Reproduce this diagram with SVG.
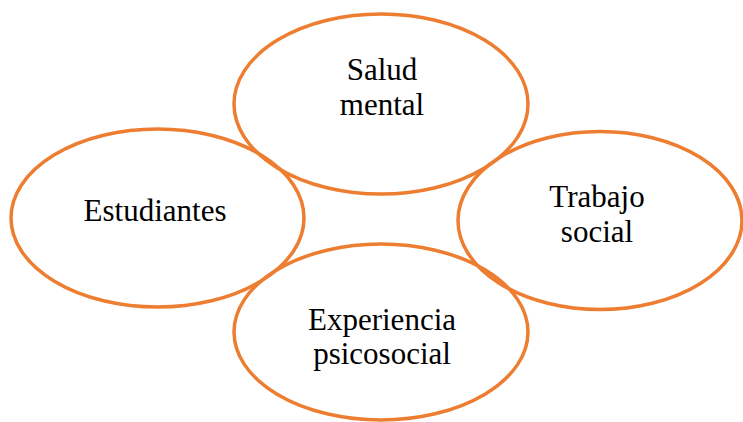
<svg xmlns="http://www.w3.org/2000/svg" width="743" height="422" viewBox="0 0 743 422">
<style>
.n{fill:none;stroke:#ED7D31;stroke-width:3.5}
.t{font-family:"Liberation Serif","Times New Roman",serif;font-size:31px;fill:#000;text-anchor:middle}
</style>
<rect width="743" height="422" fill="#fff"/>
<g id="salud"><ellipse class="n" cx="381" cy="104" rx="147" ry="90"/><text class="t" x="382" y="80">Salud</text><text class="t" x="382" y="115">mental</text></g>
<g id="estudiantes"><ellipse class="n" cx="157.5" cy="218" rx="146.5" ry="89"/><text class="t" x="155" y="221">Estudiantes</text></g>
<g id="trabajo"><ellipse class="n" cx="600" cy="220.5" rx="142" ry="89"/><text class="t" x="597" y="207">Trabajo</text><text class="t" x="597" y="242">social</text></g>
<g id="experiencia"><ellipse class="n" cx="381" cy="332" rx="147" ry="88"/><text class="t" x="382" y="330">Experiencia</text><text class="t" x="382" y="364">psicosocial</text></g>
<g id="connectors"/>
</svg>
